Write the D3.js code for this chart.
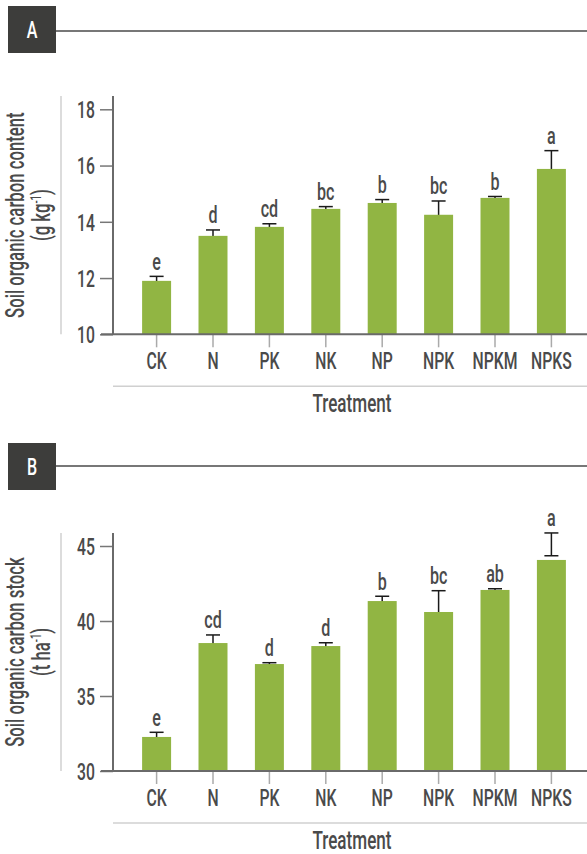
<!DOCTYPE html>
<html><head><meta charset="utf-8">
<script src="https://cdn.jsdelivr.net/npm/d3@7"></script>
<style>
body{margin:0;background:#fff;}
svg text{font-family:"Roboto",sans-serif;font-weight:500;fill:#4a4a4a;}
</style></head>
<body><svg id="c" width="587" height="854"></svg>
<script>
const categories = ["CK","N","PK","NK","NP","NPK","NPKM","NPKS"];

const contentMeans   = [11.90,13.50,13.82,14.46,14.67,14.25,14.85,15.88];
const contentErrHigh = [12.06,13.71,13.93,14.54,14.79,14.74,14.90,16.53];
const contentErrLow  = [11.74,13.29,13.71,14.38,14.55,13.76,14.80,15.23];
const contentLetters = ["e","d","cd","bc","b","bc","b","a"];
const contentTicks   = [10,12,14,16,18];

const stockMeans   = [32.27,38.53,37.13,38.33,41.33,40.60,42.07,44.07];
const stockErrHigh = [32.58,39.07,37.22,38.55,41.65,42.02,42.15,45.87];
const stockErrLow  = [31.96,37.99,37.04,38.11,41.01,39.18,41.99,44.35];
const stockLetters = ["e","cd","d","d","b","bc","ab","a"];
const stockTicks   = [30,35,40,45];

const panels = [
  {label:"A", boxTop:6, headerY:31, axisTop:96, yBottom:334.3, yTop:109.3,
   domain:[10,18], ticks:contentTicks, means:contentMeans, hi:contentErrHigh, lo:contentErrLow,
   letters:contentLetters, title:"Soil organic carbon content", unit:["(g kg","-1",")"]},
  {label:"B", boxTop:443, headerY:466, axisTop:533, yBottom:771, yTop:546,
   domain:[30,45], ticks:stockTicks, means:stockMeans, hi:stockErrHigh, lo:stockErrLow,
   letters:stockLetters, title:"Soil organic carbon stock", unit:["(t ha","-1",")"]}
];

const SX = 0.67;      // horizontal condensing of the Roboto glyphs
const FS = 23.5;
const svg = d3.select("#c");
const x = d3.scaleBand().domain(categories).range([128.4,579.6]).paddingInner(0.486).paddingOuter(0.243);
const barColor = "#91b543";

function ctext(parent, px, py, str, anchor, size){
  return parent.append("text")
    .attr("transform",`translate(${px},${py}) scale(${SX},1)`)
    .attr("text-anchor",anchor||"middle").style("font-size",(size||FS)+"px").text(str);
}

panels.forEach(p => {
  const g = svg.append("g");
  // header
  g.append("rect").attr("x",8).attr("y",p.boxTop).attr("width",48).attr("height",47).attr("fill","#3d3d3b");
  ctext(g,32,p.boxTop+32,p.label,"middle",24).style("fill","#fff");
  g.append("line").attr("x1",56).attr("x2",587).attr("y1",p.headerY).attr("y2",p.headerY)
    .attr("stroke","#4a4a4a").attr("stroke-width",1.5);

  const y = d3.scaleLinear().domain(p.domain).range([p.yBottom,p.yTop]);
  const base = p.yBottom;

  // gray guide lines
  g.append("line").attr("x1",61).attr("x2",61).attr("y1",p.axisTop).attr("y2",base)
    .attr("stroke","#d0d0d0").attr("stroke-width",1.5);
  g.append("line").attr("x1",113).attr("x2",587).attr("y1",base+52).attr("y2",base+52)
    .attr("stroke","#d0d0d0").attr("stroke-width",1.5);

  // error bars (drawn under bars)
  const eb = g.append("g").attr("stroke","#1a1a1a").attr("stroke-width",1.5);
  categories.forEach((c,i) => {
    const cx = x(c)+x.bandwidth()/2;
    eb.append("line").attr("x1",cx).attr("x2",cx).attr("y1",y(p.lo[i])).attr("y2",y(p.hi[i]));
    eb.append("line").attr("x1",cx-7).attr("x2",cx+7).attr("y1",y(p.hi[i])).attr("y2",y(p.hi[i]));
    eb.append("line").attr("x1",cx-7).attr("x2",cx+7).attr("y1",y(p.lo[i])).attr("y2",y(p.lo[i]));
  });

  // bars
  g.selectAll(".bar").data(categories).enter().append("rect")
    .attr("x",d=>x(d)).attr("width",x.bandwidth())
    .attr("y",(d,i)=>y(p.means[i])).attr("height",(d,i)=>base-y(p.means[i]))
    .attr("fill",barColor);

  // letters
  categories.forEach((c,i) => {
    ctext(g, x(c)+x.bandwidth()/2, y(p.hi[i])-6.5, p.letters[i], "middle", 24);
  });

  // y axis
  const ya = g.append("g").attr("transform","translate(113,0)")
    .call(d3.axisLeft(y).tickValues(p.ticks).tickSize(13).tickPadding(5).tickFormat(d3.format("d")));
  ya.select(".domain").remove();
  ya.selectAll(".tick line").attr("stroke","#777").attr("stroke-width",1.5);
  ya.selectAll(".tick text").style("font-size",FS+"px").style("fill","#4a4a4a")
    .attr("x",null).attr("dy",null)
    .attr("transform",`translate(-18,8.3) scale(${SX},1)`);
  g.append("line").attr("x1",113).attr("x2",113).attr("y1",p.axisTop).attr("y2",base)
    .attr("stroke","#6a6a6a").attr("stroke-width",2);

  // x axis
  const xa = g.append("g").attr("transform",`translate(0,${base})`)
    .call(d3.axisBottom(x).tickSize(13).tickPadding(8));
  xa.select(".domain").remove();
  xa.selectAll(".tick line").attr("stroke","#aaa").attr("stroke-width",1.5);
  xa.selectAll(".tick text").style("font-size",FS+"px").style("fill","#4a4a4a")
    .attr("y",null).attr("dy",null)
    .attr("transform",`translate(0,35) scale(${SX},1)`);
  g.append("line").attr("x1",101).attr("x2",587).attr("y1",base).attr("y2",base)
    .attr("stroke","#6a6a6a").attr("stroke-width",2);

  ctext(g, 352, base+78, "Treatment", "middle", 25.5);

  // y title
  const cy = (p.axisTop+base)/2;
  g.append("text").attr("transform",`translate(24,${cy}) rotate(-90) scale(${SX},1)`)
    .attr("text-anchor","middle").style("font-size","25px").text(p.title);
  const t2 = g.append("text").attr("transform",`translate(50,${cy}) rotate(-90) scale(${SX},1)`)
    .attr("text-anchor","middle").style("font-size","25px");
  t2.append("tspan").text(p.unit[0]);
  t2.append("tspan").attr("dy",-9).style("font-size","14px").text(p.unit[1]);
  t2.append("tspan").attr("dy",9).text(p.unit[2]);
});
</script></body></html>
